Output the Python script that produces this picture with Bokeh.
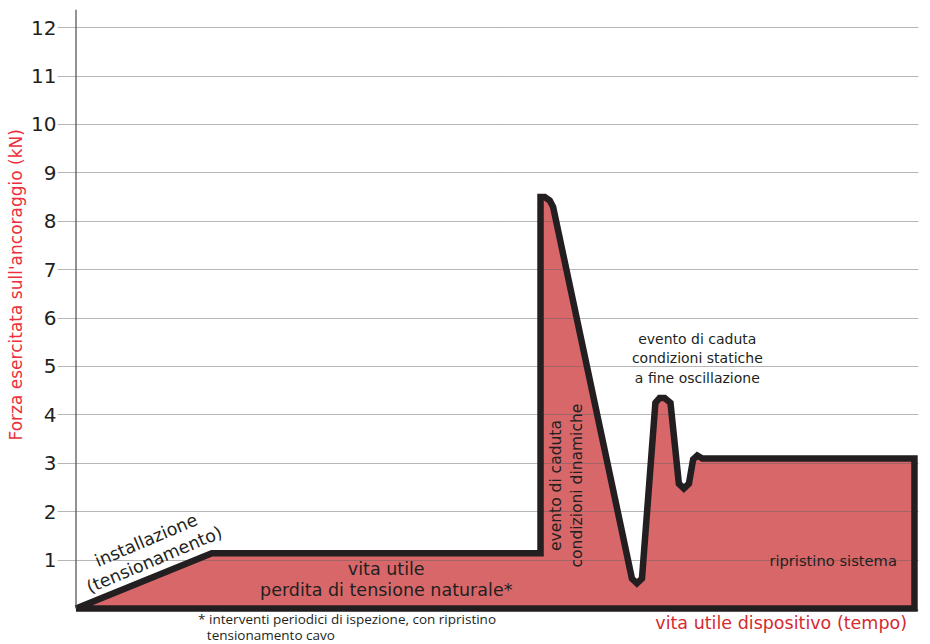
from bokeh.plotting import figure
from bokeh.models import Range1d, FixedTicker, Title
from bokeh.core.properties import value
from bokeh.embed import file_html
from bokeh.resources import INLINE

# ---- data ----
tempo = [0, 16.2, 55.4, 55.4, 55.9, 56.5, 56.9, 66.3, 66.9, 67.5, 69.1, 69.6, 70.2,
         70.9, 71.9, 72.5, 73.1, 73.6, 74.1, 74.7, 100, 100]
forza = [0, 1.14, 1.14, 8.5, 8.5, 8.43, 8.3, 0.62, 0.52, 0.62, 4.25, 4.35, 4.35,
         4.25, 2.58, 2.48, 2.58, 3.08, 3.16, 3.1, 3.1, 0]
y_ticks = [1, 2, 3, 4, 5, 6, 7, 8, 9, 10, 11, 12]
y_label = "Forza esercitata sull'ancoraggio (kN)"
x_label = "vita utile dispositivo (tempo)"

FILL = "#d8676a"
DARK = "#231f20"
FONT = value("DejaVu Sans")

p = figure(width=930, height=644, output_backend="svg", toolbar_location=None,
           x_range=Range1d(-2.208, 100.48), y_range=Range1d(-0.744, 12.376),
           min_border_left=54, min_border_right=12, min_border_top=9, min_border_bottom=0)
p.outline_line_color = None
p.xaxis.visible = False
p.xgrid.visible = False

yax = p.yaxis[0]
yax.ticker = FixedTicker(ticks=y_ticks)
yax.axis_line_color = None
yax.major_tick_line_color = None
yax.major_tick_out = 0
yax.major_tick_in = 0
yax.minor_tick_line_color = None
yax.minor_tick_out = 0
yax.major_label_standoff = 1
yax.major_label_text_font = "DejaVu Sans"
yax.major_label_text_font_size = "20px"
yax.major_label_text_color = DARK

p.ygrid.grid_line_color = "#5f5f5f"
p.ygrid.grid_line_dash = "1 1"
p.ygrid.grid_line_width = 1
p.ygrid.grid_line_alpha = 0.9

# fill below the grid, outline (open path, so the sharp start corner has no long miter) above
p.patch(tempo, forza, fill_color=FILL, line_color=None, level="image")
p.line(tempo + tempo[:1], forza + forza[:1], line_color=DARK, line_width=6.5,
       line_join="miter", line_cap="butt")

# axis lines
p.segment(x0=[0], y0=[0], x1=[0], y1=[12.376], line_color="#4a4a4a", line_width=1.2)
p.segment(x0=[0], y0=[-0.03], x1=[100.48], y1=[-0.03], line_color=DARK, line_width=1)

# annotations
p.text(x=[8.85], y=[1.21], text=["installazione\n(tensionamento)"], angle=0.40,
       text_align="center", text_baseline="middle", text_font=FONT,
       text_font_size="17.5px", text_color=DARK, text_line_height=1.05)
p.text(x=[37.0], y=[0.6], text=["vita utile\nperdita di tensione naturale*"],
       text_align="center", text_baseline="middle", text_font=FONT,
       text_font_size="17.5px", text_color=DARK, text_line_height=1.05)
p.text(x=[14.56], y=[-0.207], text=["* interventi periodici di ispezione, con ripristino"],
       text_align="left", text_baseline="middle", text_font=value("Open Sans"),
       text_font_size="13.5px", text_color=DARK)
p.text(x=[15.6], y=[-0.54], text=["tensionamento cavo"],
       text_align="left", text_baseline="middle", text_font=value("Open Sans"),
       text_font_size="13.5px", text_color=DARK)
p.text(x=[58.5], y=[2.54], text=["evento di caduta\ncondizioni dinamiche"], angle=1.5708,
       text_align="center", text_baseline="middle", text_font=FONT,
       text_font_size="15.5px", text_color=DARK, text_line_height=1.2)
p.text(x=[74.1], y=[5.17], text=["evento di caduta\ncondizioni statiche\na fine oscillazione"],
       text_align="center", text_baseline="middle", text_font=FONT,
       text_font_size="14px", text_color=DARK, text_line_height=1.22)
p.text(x=[90.3], y=[0.99], text=["ripristino sistema"],
       text_align="center", text_baseline="middle", text_font=FONT,
       text_font_size="14.7px", text_color=DARK)
p.text(x=[84.1], y=[-0.29], text=[x_label],
       text_align="center", text_baseline="middle", text_font=FONT,
       text_font_size="17.5px", text_color="#d42a30")

t = Title(text=y_label, align="left", offset=204, standoff=6,
          text_font="DejaVu Sans", text_font_size="17px", text_font_style="normal",
          text_color="#ec2f3b")
p.add_layout(t, "left")

open("out.html", "w").write(file_html(p, INLINE))
